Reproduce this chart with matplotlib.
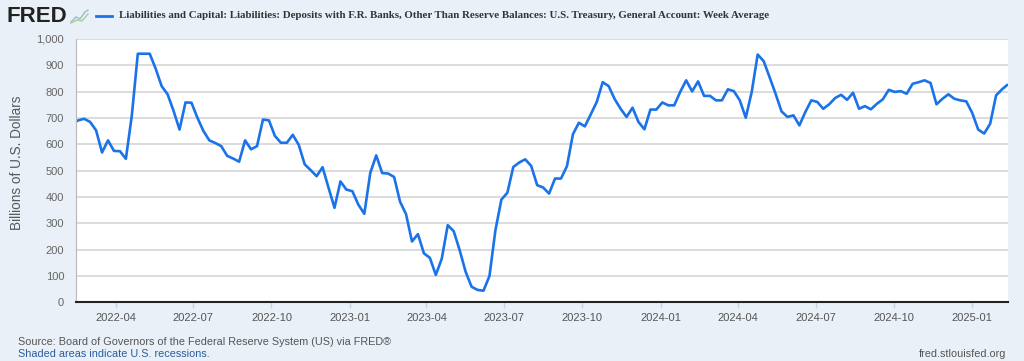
import matplotlib
matplotlib.use('Agg')
import matplotlib.pyplot as plt
import matplotlib.dates as mdates
from matplotlib.lines import Line2D
from matplotlib.ticker import FuncFormatter
import pandas as pd

plt.rcParams['font.family'] = ['Liberation Sans', 'DejaVu Sans']

# Weekly averages (Wednesday), billions of dollars
first_week = '2022-02-09'
tga = [
    680, 691, 697, 685, 653, 569, 615, 575, 574, 545,
    710, 944, 944, 944, 887, 821, 790, 727, 656, 759,
    758, 701, 651, 615, 605, 593, 556, 546, 534, 615,
    581, 593, 694, 691, 632, 606, 606, 636, 598, 524,
    502, 479, 513, 435, 359, 459, 428, 422, 371, 336,
    491, 558, 491, 489, 476, 382, 335, 231, 259, 186,
    169, 104, 166, 293, 270, 198, 116, 59, 47, 44,
    100, 274, 390, 416, 514, 531, 543, 518, 445, 436,
    413, 470, 470, 517, 638, 682, 668, 714, 761, 836,
    821, 772, 735, 704, 739, 685, 657, 732, 732, 759,
    748, 748, 799, 843, 801, 839, 784, 784, 767, 767,
    809, 802, 767, 701, 799, 941, 916, 855, 792, 725,
    704, 710, 672, 723, 767, 761, 735, 752, 776, 788,
    769, 796, 735, 745, 733, 754, 771, 807, 799, 802,
    792, 830, 836, 843, 833, 752, 773, 790, 773, 767,
    763, 719, 656, 641, 678, 786, 809, 828,
]
dates = pd.date_range(first_week, periods=len(tga), freq='7D')

title = ("Liabilities and Capital: Liabilities: Deposits with F.R. Banks, Other Than "
         "Reserve Balances: U.S. Treasury, General Account: Week Average")
y_label = "Billions of U.S. Dollars"
y_ticks = list(range(0, 1001, 100))
x_ticks = pd.date_range('2022-04-01', '2025-01-01', freq='QS')
x_range = (pd.Timestamp('2022-02-13 10:00'), pd.Timestamp('2025-02-12 08:00'))
source = "Source: Board of Governors of the Federal Reserve System (US) via FRED\u00ae"
shaded = "Shaded areas indicate U.S. recessions."
site = "fred.stlouisfed.org"

bg = '#e9f0f8'
blue = '#1a73e8'
W, H = 1024, 361

fig = plt.figure(figsize=(W / 100, H / 100), dpi=100, facecolor=bg)
ax = fig.add_axes([76 / W, 1 - 302.3 / H, (1008.3 - 76) / W, (302.3 - 39) / H])
ax.set_facecolor('white')

ax.plot(dates, tga, color=blue, lw=1.9, solid_capstyle='butt')

ax.set_xlim(*x_range)
ax.set_ylim(0, 1000)
ax.set_yticks(y_ticks)
ax.yaxis.set_major_formatter(FuncFormatter(lambda v, p: f'{int(v):,}'))
ax.set_xticks(x_ticks)
ax.xaxis.set_major_formatter(mdates.DateFormatter('%Y-%m'))

ax.grid(axis='y', color='#d6d6d6', lw=1.2)
ax.set_axisbelow(True)
for s in ['top', 'right']:
    ax.spines[s].set_visible(False)
ax.spines['left'].set_color('#b8b8b8')
ax.spines['left'].set_linewidth(0.8)
ax.spines['bottom'].set_color('#222222')
ax.spines['bottom'].set_linewidth(1.5)

ax.tick_params(axis='y', length=0, pad=8.5, labelsize=8, labelcolor='#666666')
ax.tick_params(axis='x', length=4.5, width=1, color='#c8d3e0', pad=3,
               labelsize=8, labelcolor='#555555')

fig.text(17 / W, 1 - 163 / H, y_label, rotation=90, ha='center', va='center',
         fontsize=9.8, color='#595959')

# header
fig.text(7 / W, 1 - 16 / H, 'FRED', ha='left', va='center', fontsize=16,
         fontweight='bold', color='#222222')
fig.add_artist(Line2D([71 / W, 76 / W, 80 / W, 85 / W, 88 / W],
                      [1 - 22 / H, 1 - 17 / H, 1 - 19 / H, 1 - 12 / H, 1 - 10 / H],
                      color='#9ab7d6', lw=1))
fig.add_artist(Line2D([71 / W, 77 / W, 82 / W, 88 / W],
                      [1 - 23 / H, 1 - 20 / H, 1 - 21 / H, 1 - 14 / H],
                      color='#a8cf86', lw=1))
fig.add_artist(Line2D([96 / W, 112 / W], [1 - 16 / H] * 2, color=blue, lw=2))
fig.text(119 / W, 1 - 16 / H, title, ha='left', va='center', fontsize=7.85,
         fontweight='bold', family=['Liberation Serif', 'DejaVu Serif'], color='#333333')

# footer
fig.text(18 / W, 1 - 342 / H, source, ha='left', va='center', fontsize=7.8, color='#555555')
fig.text(18 / W, 1 - 354 / H, shaded, ha='left', va='center', fontsize=7.8, color='#2a5d9f')
fig.text(1006 / W, 1 - 354 / H, site, ha='right', va='center', fontsize=7.8, color='#555555')

fig.savefig('out.png', dpi=100, facecolor=bg)
